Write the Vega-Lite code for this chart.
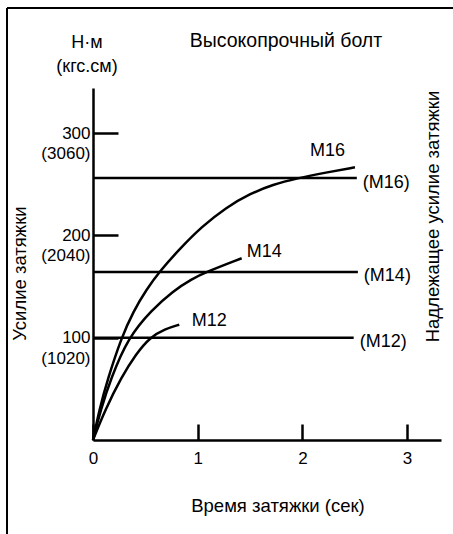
{
  "$schema": "https://vega.github.io/schema/vega-lite/v6.json",
  "width": 348,
  "height": 352,
  "autosize": "none",
  "padding": {"left": 93, "top": 88, "right": 12, "bottom": 94},
  "background": "white",
  "config": {"view": {"stroke": null}, "font": "Liberation Sans"},
  "datasets": {
    "curves": [
      {"bolt": "M16", "t": 0, "torque": 0},
      {"bolt": "M16", "t": 0.06, "torque": 29.3},
      {"bolt": "M16", "t": 0.137, "torque": 58.6},
      {"bolt": "M16", "t": 0.274, "torque": 100.7},
      {"bolt": "M16", "t": 0.385, "torque": 125.6},
      {"bolt": "M16", "t": 0.511, "torque": 147.1},
      {"bolt": "M16", "t": 0.64, "torque": 165.2},
      {"bolt": "M16", "t": 0.831, "torque": 187.1},
      {"bolt": "M16", "t": 1.038, "torque": 208.4},
      {"bolt": "M16", "t": 1.27, "torque": 227.2},
      {"bolt": "M16", "t": 1.5, "torque": 240.7},
      {"bolt": "M16", "t": 1.719, "torque": 249.7},
      {"bolt": "M16", "t": 1.948, "torque": 255.7},
      {"bolt": "M16", "t": 2.225, "torque": 261.4},
      {"bolt": "M16", "t": 2.502, "torque": 266.5},
      {"bolt": "M14", "t": 0, "torque": 0},
      {"bolt": "M14", "t": 0.076, "torque": 30.3},
      {"bolt": "M14", "t": 0.169, "torque": 59.6},
      {"bolt": "M14", "t": 0.337, "torque": 100.4},
      {"bolt": "M14", "t": 0.561, "torque": 127},
      {"bolt": "M14", "t": 0.764, "torque": 145.6},
      {"bolt": "M14", "t": 0.946, "torque": 157.3},
      {"bolt": "M14", "t": 1.07, "torque": 163.7},
      {"bolt": "M14", "t": 1.42, "torque": 177.6},
      {"bolt": "M12", "t": 0, "torque": 0},
      {"bolt": "M12", "t": 0.115, "torque": 29.3},
      {"bolt": "M12", "t": 0.274, "torque": 61.9},
      {"bolt": "M12", "t": 0.411, "torque": 84},
      {"bolt": "M12", "t": 0.544, "torque": 100.4},
      {"bolt": "M12", "t": 0.688, "torque": 108.5},
      {"bolt": "M12", "t": 0.824, "torque": 112.7}
    ],
    "limits": [
      {"bolt": "(M16)", "torque": 256, "t0": 0, "tend": 2.52},
      {"bolt": "(M14)", "torque": 164.2, "t0": 0, "tend": 2.53},
      {"bolt": "(M12)", "torque": 100, "t0": 0, "tend": 2.49}
    ]
  },
  "layer": [
    {
      "data": {"name": "curves"},
      "mark": {"type": "line", "interpolate": "basis", "strokeWidth": 2.5, "color": "black"},
      "encoding": {
        "x": {
          "field": "t", "type": "quantitative",
          "scale": {"domain": [0, 3.324], "nice": false, "zero": false},
          "axis": {
            "orient": "bottom", "values": [0, 1, 2, 3], "grid": false, "labelFlush": false,
            "tickSize": -16, "tickWidth": 2.5, "tickColor": "black",
            "domainColor": "black", "domainWidth": 2.5,
            "labelFont": "Liberation Sans", "labelFontSize": 17, "labelColor": "black",
            "labelPadding": 26.6, "labelBaseline": "top",
            "title": "Время затяжки (сек)", "titleFont": "Liberation Sans", "titleFontSize": 18.5,
            "titleFontWeight": "normal", "titleColor": "black",
            "titleX": 184.5, "titleY": 71, "titleAlign": "center", "titleBaseline": "alphabetic"
          }
        },
        "y": {
          "field": "torque", "type": "quantitative",
          "scale": {"domain": [0, 344], "nice": false, "zero": false},
          "axis": {
            "orient": "left", "values": [100, 200, 300], "grid": false, "labelFlush": false,
            "tickSize": -25, "tickWidth": 2.5, "tickColor": "black",
            "domainColor": "black", "domainWidth": 2.5,
            "labelExpr": "datum.value == 300 ? ['300', '(3060)'] : datum.value == 200 ? ['200', '(2040)'] : ['100', '(1020)']",
            "labelFont": "Liberation Sans", "labelFontSize": 17, "labelColor": "black",
            "labelPadding": 28, "labelAlign": "right", "labelBaseline": "top", "labelOffset": -8, "labelLineHeight": 20.5,
            "title": "Усилие затяжки", "titleFont": "Liberation Sans", "titleFontSize": 18.5,
            "titleFontWeight": "normal", "titleColor": "black",
            "titleX": -74, "titleY": 185, "titleAngle": 270, "titleBaseline": "middle", "titleAlign": "center"
          }
        },
        "detail": {"field": "bolt", "type": "nominal"}
      }
    },
    {
      "data": {"name": "limits"},
      "mark": {"type": "rule", "strokeWidth": 2.5, "color": "black"},
      "encoding": {
        "x": {"field": "t0", "type": "quantitative", "scale": {"domain": [0, 3.324], "nice": false, "zero": false}, "axis": null},
        "x2": {"field": "tend"},
        "y": {
          "field": "torque", "type": "quantitative",
          "scale": {"domain": [0, 344], "nice": false, "zero": false},
          "axis": {
            "orient": "right", "domain": false, "ticks": false, "labels": false, "grid": false,
            "title": "Надлежащее усилие затяжки",
            "titleX": -9, "titleY": 128, "titleAngle": 270,
            "titleBaseline": "middle", "titleAlign": "center",
            "titleFontSize": 18.5, "titleFontWeight": "normal", "titleColor": "black", "titleFont": "Liberation Sans"
          }
        }
      }
    },
    {
      "data": {"name": "limits"},
      "mark": {"type": "text", "align": "left", "baseline": "middle", "dx": 6, "dy": 4.5, "fontSize": 18, "color": "black"},
      "encoding": {
        "x": {"field": "tend", "type": "quantitative", "scale": {"domain": [0, 3.324], "nice": false, "zero": false}, "axis": null},
        "y": {"field": "torque", "type": "quantitative", "scale": {"domain": [0, 344], "nice": false, "zero": false}, "axis": null},
        "text": {"field": "bolt", "type": "nominal"}
      }
    },
    {
      "data": {"name": "curves"},
      "transform": [
        {"joinaggregate": [{"op": "max", "field": "t", "as": "tmax"}], "groupby": ["bolt"]},
        {"filter": "datum.t == datum.tmax && datum.bolt == 'M16'"}
      ],
      "mark": {"type": "text", "align": "right", "baseline": "middle", "dx": -10, "dy": -16, "fontSize": 18, "color": "black"},
      "encoding": {
        "x": {"field": "t", "type": "quantitative", "scale": {"domain": [0, 3.324], "nice": false, "zero": false}, "axis": null},
        "y": {"field": "torque", "type": "quantitative", "scale": {"domain": [0, 344], "nice": false, "zero": false}, "axis": null},
        "text": {"field": "bolt", "type": "nominal"}
      }
    },
    {
      "data": {"name": "curves"},
      "transform": [
        {"joinaggregate": [{"op": "max", "field": "t", "as": "tmax"}], "groupby": ["bolt"]},
        {"filter": "datum.t == datum.tmax && datum.bolt == 'M14'"}
      ],
      "mark": {"type": "text", "align": "left", "baseline": "middle", "dx": 5, "dy": -6, "fontSize": 18, "color": "black"},
      "encoding": {
        "x": {"field": "t", "type": "quantitative", "scale": {"domain": [0, 3.324], "nice": false, "zero": false}, "axis": null},
        "y": {"field": "torque", "type": "quantitative", "scale": {"domain": [0, 344], "nice": false, "zero": false}, "axis": null},
        "text": {"field": "bolt", "type": "nominal"}
      }
    },
    {
      "data": {"name": "curves"},
      "transform": [
        {"joinaggregate": [{"op": "max", "field": "t", "as": "tmax"}], "groupby": ["bolt"]},
        {"filter": "datum.t == datum.tmax && datum.bolt == 'M12'"}
      ],
      "mark": {"type": "text", "align": "left", "baseline": "middle", "dx": 12.5, "dy": -4, "fontSize": 18, "color": "black"},
      "encoding": {
        "x": {"field": "t", "type": "quantitative", "scale": {"domain": [0, 3.324], "nice": false, "zero": false}, "axis": null},
        "y": {"field": "torque", "type": "quantitative", "scale": {"domain": [0, 344], "nice": false, "zero": false}, "axis": null},
        "text": {"field": "bolt", "type": "nominal"}
      }
    },
    {
      "data": {"values": [{}]},
      "mark": {"type": "rule", "strokeWidth": 2, "color": "black"},
      "encoding": {
        "x": {"datum": -0.8214, "type": "quantitative", "scale": {"domain": [0, 3.324], "nice": false, "zero": false}, "axis": null},
        "y": {"datum": 422.2, "type": "quantitative", "scale": {"domain": [0, 344], "nice": false, "zero": false}, "axis": null},
        "y2": {"datum": -150}
      }
    },
    {
      "data": {"values": [{}]},
      "mark": {"type": "rule", "strokeWidth": 2, "color": "black"},
      "encoding": {
        "x": {"datum": -0.8214, "type": "quantitative", "scale": {"domain": [0, 3.324], "nice": false, "zero": false}, "axis": null},
        "x2": {"datum": 5},
        "y": {"datum": 422.2, "type": "quantitative", "scale": {"domain": [0, 344], "nice": false, "zero": false}, "axis": null}
      }
    },
    {
      "data": {"values": [{}]},
      "mark": {"type": "text", "align": "center", "baseline": "middle", "fontSize": 19.5, "color": "black"},
      "encoding": {
        "x": {"datum": 1.843, "type": "quantitative", "scale": {"domain": [0, 3.324], "nice": false, "zero": false}, "axis": null},
        "y": {"datum": 389.9, "type": "quantitative", "scale": {"domain": [0, 344], "nice": false, "zero": false}, "axis": null},
        "text": {"value": "Высокопрочный болт"}
      }
    },
    {
      "data": {"values": [{}]},
      "mark": {"type": "text", "align": "center", "baseline": "alphabetic", "fontSize": 18, "lineHeight": 24, "color": "black"},
      "encoding": {
        "x": {"datum": -0.057, "type": "quantitative", "scale": {"domain": [0, 3.324], "nice": false, "zero": false}, "axis": null},
        "y": {"datum": 383.1, "type": "quantitative", "scale": {"domain": [0, 344], "nice": false, "zero": false}, "axis": null},
        "text": {"value": ["Н·м", "(кгс.см)"]}
      }
    }
  ],
  "resolve": {"axis": {"x": "independent", "y": "independent"}}
}
